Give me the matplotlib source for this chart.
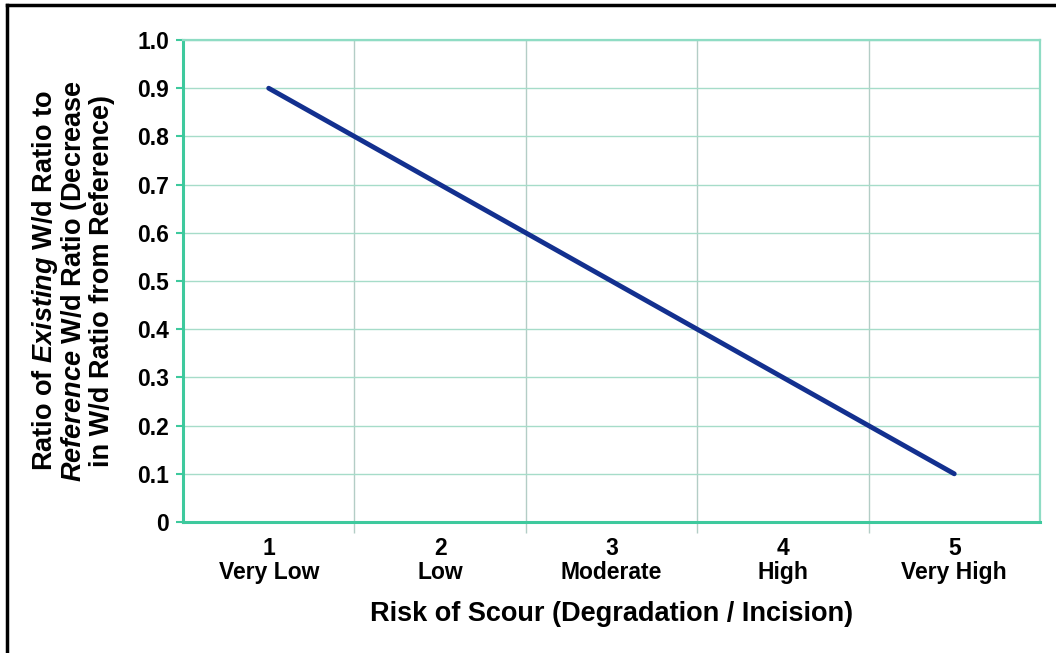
import matplotlib
matplotlib.use("Agg")
import matplotlib.pyplot as plt
from matplotlib.lines import Line2D

plt.rcParams["font.family"] = "Liberation Sans"
plt.rcParams["font.weight"] = "bold"
plt.rcParams["mathtext.fontset"] = "custom"
plt.rcParams["mathtext.rm"] = "Liberation Sans:bold"
plt.rcParams["mathtext.it"] = "Liberation Sans:italic:bold"
plt.rcParams["mathtext.bf"] = "Liberation Sans:bold"

risk_level = [1, 2, 3, 4, 5]
risk_names = ["Very Low", "Low", "Moderate", "High", "Very High"]
wd_ratio = [0.9, 0.7, 0.5, 0.3, 0.1]
y_ticks = [0, 0.1, 0.2, 0.3, 0.4, 0.5, 0.6, 0.7, 0.8, 0.9, 1.0]
y_labels = ["0", "0.1", "0.2", "0.3", "0.4", "0.5", "0.6", "0.7", "0.8", "0.9", "1.0"]

teal = "#3ec99d"
grid_h = "#a6dcc9"
grid_v = "#b3cdc6"

fig = plt.figure(figsize=(10.56, 6.53), dpi=100)
ax = fig.add_axes([0.1733, 0.2006, 0.8115, 0.7381])

ax.plot(risk_level, wd_ratio, color="#13308f", lw=3.5, solid_capstyle="round", zorder=5)

ax.set_xlim(0.5, 5.5)
ax.set_ylim(0, 1.0)

ax.set_yticks(y_ticks)
ax.set_yticklabels(y_labels, fontsize=16.5, fontweight="bold")
ax.set_xticks(risk_level)
ax.set_xticklabels([f"{n}\n{name}" for n, name in zip(risk_level, risk_names)],
                   fontsize=16.5, fontweight="bold", linespacing=1.05)
ax.tick_params(axis="x", length=0, pad=11)
ax.tick_params(axis="y", length=5, width=1.5, color=teal, pad=5)

# category dividers with small ticks below the axis
ax.set_xticks([1.5, 2.5, 3.5, 4.5], minor=True)
ax.tick_params(axis="x", which="minor", length=8, width=1, color=grid_v)
ax.grid(True, which="minor", axis="x", color=grid_v, lw=1)
ax.grid(True, which="major", axis="y", color=grid_h, lw=1)
ax.set_axisbelow(True)

for side in ["left", "bottom"]:
    ax.spines[side].set_color(teal)
    ax.spines[side].set_linewidth(2.2)
for side in ["top", "right"]:
    ax.spines[side].set_color("#8fdcc4")
    ax.spines[side].set_linewidth(1.6)

ax.set_xlabel("Risk of Scour (Degradation / Incision)", fontsize=19.5, fontweight="bold", labelpad=12)
ax.set_ylabel("Ratio of $Existing$ W/d Ratio to\n"
              "$Reference$ W/d Ratio (Decrease\n"
              "in W/d Ratio from Reference)",
              fontsize=19.5, fontweight="bold", linespacing=0.98, labelpad=16)

# outer frame
fig.add_artist(Line2D([0.0066, 0.0066], [0, 0.992], transform=fig.transFigure, color="black", lw=2.5))
fig.add_artist(Line2D([0.0066, 1.0], [0.992, 0.992], transform=fig.transFigure, color="black", lw=2.5))

fig.savefig("out.png", dpi=100, facecolor="white")
